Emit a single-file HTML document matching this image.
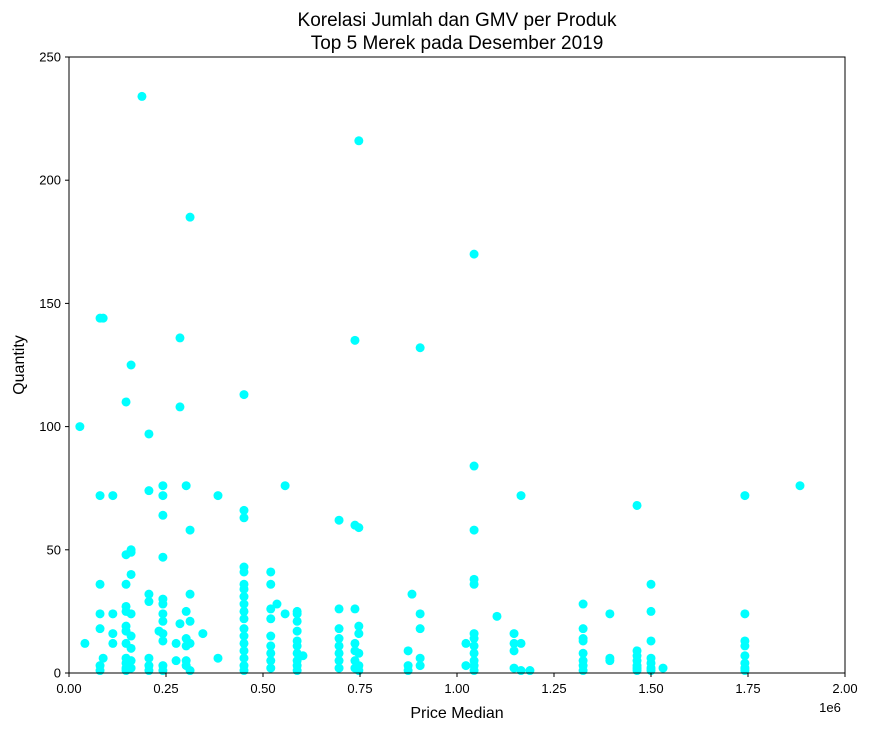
<!DOCTYPE html>
<html><head><meta charset="utf-8"><style>
html,body{margin:0;padding:0;background:#fff;}
svg{display:block;font-family:"Liberation Sans","DejaVu Sans",sans-serif;}
</style></head><body>
<svg id="chart" width="869" height="730">
<text x="457" y="26" text-anchor="middle" font-size="19">Korelasi Jumlah dan GMV per Produk</text>
<text x="457" y="49" text-anchor="middle" font-size="19">Top 5 Merek pada Desember 2019</text>
<g id="marks"></g>
<rect x="69" y="57" width="776" height="616" fill="none" stroke="#000" stroke-width="1"/>
<g id="xticks"></g>
<g id="yticks"></g>
<text x="457" y="718" text-anchor="middle" font-size="16">Price Median</text>
<text x="830" y="712" text-anchor="middle" font-size="13">1e6</text>
<text transform="translate(24,365) rotate(-90)" text-anchor="middle" font-size="16">Quantity</text>
</svg>
<script>
const groupPrices=[28000,41000,80000,88000,113000,147000,160000,188000,206000,242000,232000,276000,286000,302000,312000,345000,384000,451000,520000,536000,557000,588000,603000,696000,737000,747000,874000,884000,905000,1023000,1044000,1103000,1147000,1165000,1188000,1325000,1394000,1464000,1500000,1531000,1742000,1884000];
const groupQuantities=[[100],[12],[144,72,36,24,18,3,1],[144,6],[72,24,16,12],[110,48,36,27,25,19,17,12,6,4,2,1],[125,50,49,40,24,15,10,5,2],[234],[97,74,32,29,6,3,1],[76,72,64,47,30,28,24,21,16,13,3,1],[17],[12,5],[136,108,20],[76,25,14,11,5,3],[185,58,32,21,12,1],[16],[72,6],[113,66,63,43,41,36,34,31,28,25,22,18,15,12,9,6,3,1],[41,36,26,22,15,11,8,5,2],[28],[76,24],[25,24,21,17,13,11,8,5,3,1],[7],[62,26,18,14,11,8,5,2],[135,60,26,12,9,5,2],[216,59,19,16,8,3,1],[9,3,1],[32],[132,24,18,6,3],[12,3],[170,84,58,38,36,16,14,11,8,5,3,1],[23],[16,12,9,2],[72,12,1],[1],[28,18,14,13,8,5,3,1],[24,6,5],[68,9,7,5,3,2,1],[36,25,13,6,4,2,1],[2],[72,24,13,11,7,4,2,1],[76]];
const xTicks=[0,250000,500000,750000,1000000,1250000,1500000,1750000,2000000];
const xTickLabels=["0.00","0.25","0.50","0.75","1.00","1.25","1.50","1.75","2.00"];
const yTicks=[0,50,100,150,200,250];
const NS="http://www.w3.org/2000/svg";
const X=v=>69+v/2000000*776;
const Y=v=>673-v/250*616;
const marks=document.getElementById('marks');
groupPrices.forEach((p,i)=>{
  groupQuantities[i].forEach(q=>{
    const c=document.createElementNS(NS,'circle');
    c.setAttribute('cx',X(p));c.setAttribute('cy',Y(q));c.setAttribute('r',4.5);c.setAttribute('fill','#00ffff');
    
    
    marks.appendChild(c);
  });
});
const xg=document.getElementById('xticks');
xTicks.forEach((t,i)=>{
  const l=document.createElementNS(NS,'line');
  l.setAttribute('x1',X(t));l.setAttribute('x2',X(t));l.setAttribute('y1',673);l.setAttribute('y2',677);l.setAttribute('stroke','#000');
  
  
  xg.appendChild(l);
  const tx=document.createElementNS(NS,'text');
  tx.setAttribute('x',X(t));tx.setAttribute('y',693);tx.setAttribute('text-anchor','middle');tx.setAttribute('font-size','13');
  tx.textContent=xTickLabels[i];
  
  
  xg.appendChild(tx);
});
const yg=document.getElementById('yticks');
yTicks.forEach(t=>{
  const l=document.createElementNS(NS,'line');
  l.setAttribute('x1',65);l.setAttribute('x2',69);l.setAttribute('y1',Y(t));l.setAttribute('y2',Y(t));l.setAttribute('stroke','#000');
  
  
  yg.appendChild(l);
  const tx=document.createElementNS(NS,'text');
  tx.setAttribute('x',61);tx.setAttribute('y',Y(t)+4.5);tx.setAttribute('text-anchor','end');tx.setAttribute('font-size','13');
  tx.textContent=t;
  
  
  yg.appendChild(tx);
});
</script>
</body></html>
